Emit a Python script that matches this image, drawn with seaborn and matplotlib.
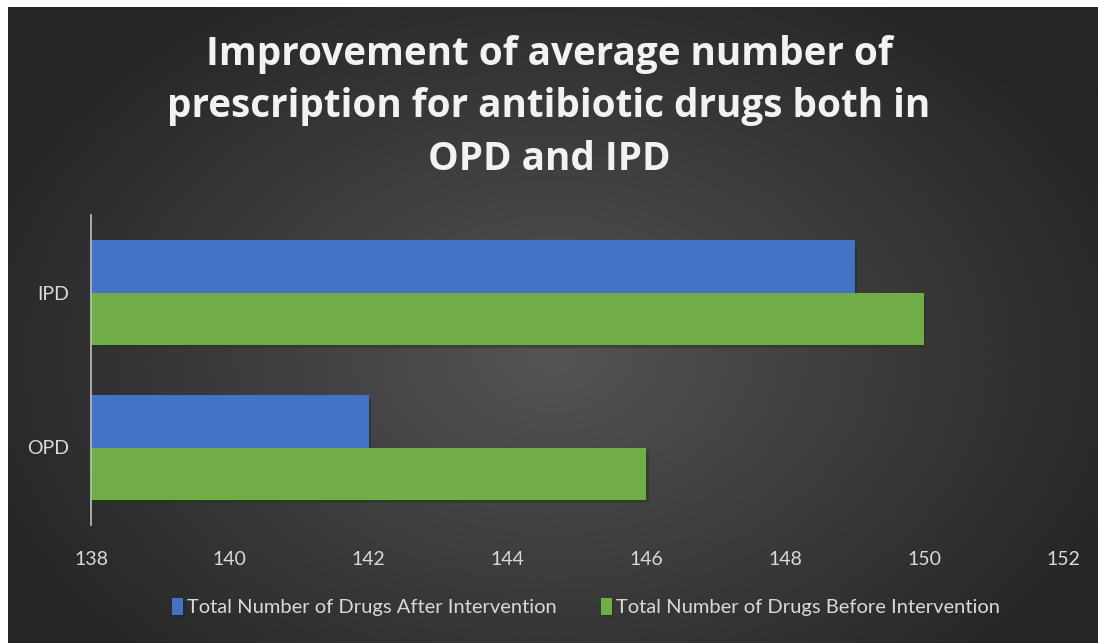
import numpy as np
import pandas as pd
import seaborn as sns
import matplotlib.pyplot as plt
import matplotlib.patheffects as pe
from matplotlib import font_manager

# data
settings = ['IPD', 'OPD']
after = [149, 142]
before = [150, 146]
series = ['Total Number of Drugs After Intervention',
          'Total Number of Drugs Before Intervention']
xticks = [138, 140, 142, 144, 146, 148, 150, 152]

df = pd.DataFrame({
    'setting': settings * 2,
    'value': after + before,
    'series': [series[0]] * len(settings) + [series[1]] * len(settings),
})

sns.set_style('white')
names = {f.name for f in font_manager.fontManager.ttflist}
tick_family = 'Liberation Sans Narrow' if 'Liberation Sans Narrow' in names else 'Lato'
plt.rcParams['font.family'] = [tick_family, 'DejaVu Sans']

text_col = '#d9d9d9'
fig = plt.figure(figsize=(10.98, 6.43), dpi=100, facecolor='white')

# radial gradient background panel
bg = fig.add_axes([8 / 1098, 0, 1 - 8 / 1098, 1 - 7 / 643], zorder=-2)
yy, xx = np.mgrid[0:1:300j, 0:1:500j]
r = np.sqrt(((xx - 0.5) / 0.62) ** 2 + ((yy - 0.55) / 0.75) ** 2)
shade = np.clip(0.33 - 0.2 * r, 0.15, 0.33)
bg.imshow(shade, cmap='gray', vmin=0, vmax=1, aspect='auto',
          extent=[0, 1, 0, 1], interpolation='bicubic')
bg.set_axis_off()

ax = fig.add_axes([91 / 1098, 118 / 643, (1063 - 91) / 1098, 310 / 643])
ax.patch.set_alpha(0)
sns.barplot(data=df, y='setting', x='value', hue='series', order=settings,
            hue_order=series, palette=['#4472c4', '#70ad47'], orient='h',
            width=0.675, saturation=1, linewidth=0, ax=ax)
for bar in ax.patches:
    bar.set_path_effects([pe.SimplePatchShadow(offset=(1.5, -2.5), alpha=0.45),
                          pe.Normal()])

ax.set_xlim(138, 152)
ax.set_ylim(1.5, -0.5)
ax.set_xticks(xticks)
ax.set_xlabel('')
ax.set_ylabel('')
for s in ['top', 'right', 'bottom']:
    ax.spines[s].set_visible(False)
ax.spines['left'].set_color('#bfbfbf')
ax.spines['left'].set_linewidth(1.2)
ax.tick_params(length=0, colors=text_col, labelsize=14, pad=16)
ax.tick_params(axis='x', pad=19)

leg = ax.legend(loc='center', bbox_to_anchor=(586 / 1098, 36 / 643), bbox_transform=fig.transFigure,
                ncol=2, frameon=False, fontsize=14.5, handlelength=0.55, handleheight=0.9,
                handletextpad=0.2, columnspacing=2.2, labelcolor=text_col)
for h in leg.legend_handles:
    h.set_linewidth(0)

fig.text(0.5, 1 - 107 / 643,
         'Improvement of average number of\nprescription for antibiotic drugs both in\nOPD and IPD',
         ha='center', va='center', color='#f2f2f2', fontsize=27.8, fontweight='bold',
         family=['Open Sans', 'DejaVu Sans'], linespacing=1.45)

fig.savefig('out.png', dpi=100, facecolor='white')
